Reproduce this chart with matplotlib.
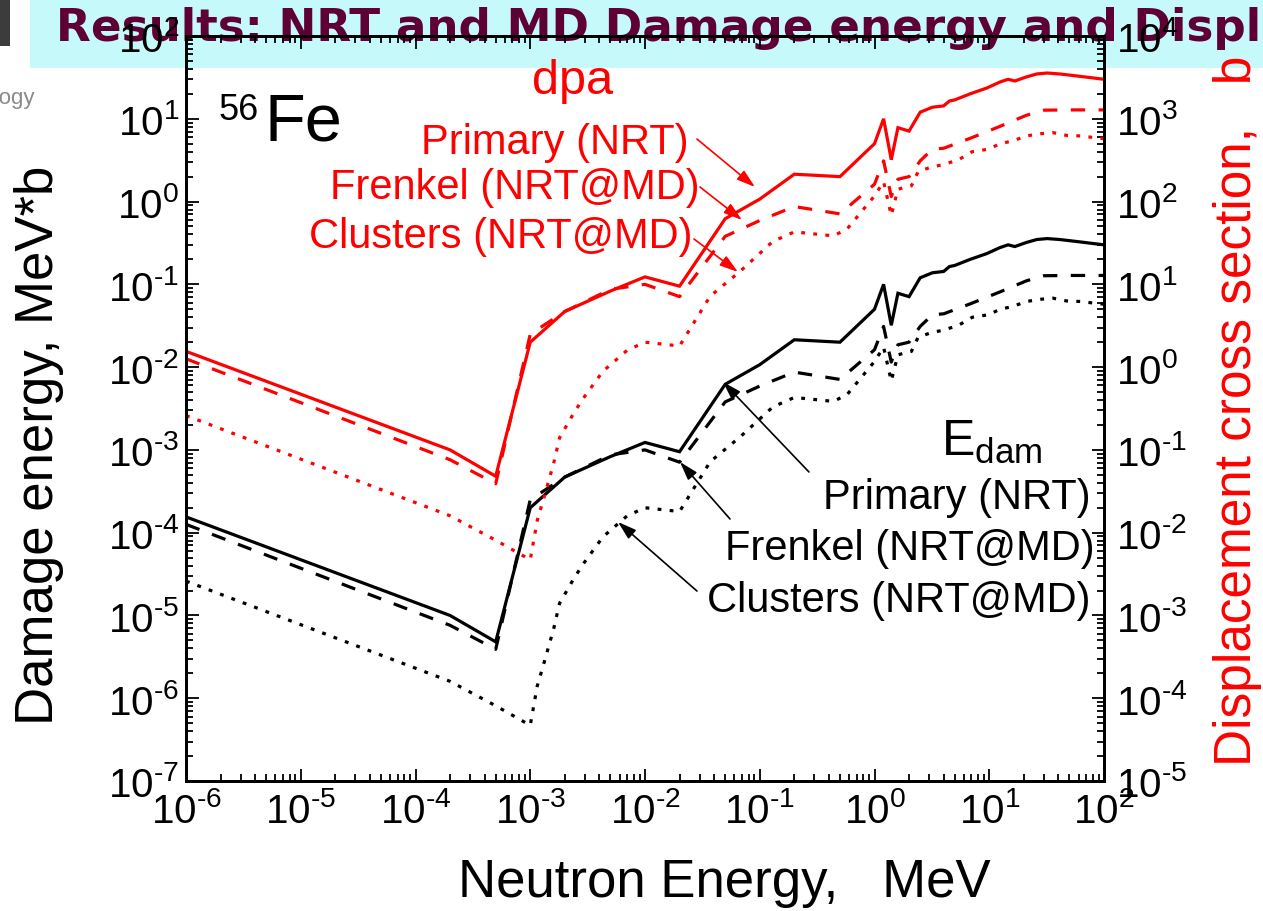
import numpy as np
import matplotlib
matplotlib.use("Agg")
import matplotlib.pyplot as plt
from matplotlib.ticker import LogLocator, NullFormatter, FuncFormatter
from matplotlib.patches import Rectangle

plt.rcParams['font.family'] = ['Liberation Sans', 'DejaVu Sans']
plt.rcParams['mathtext.fontset'] = 'custom'
plt.rcParams['mathtext.rm'] = 'Liberation Sans'
plt.rcParams['mathtext.it'] = 'Liberation Sans:italic'
plt.rcParams['mathtext.bf'] = 'Liberation Sans:bold'
plt.rcParams['mathtext.default'] = 'regular'

# ---------------- data ----------------
# Damage energy (MeV*b), left axis
e_primary = [1e-6, 2e-4, 5e-4, 1e-3, 2e-3, 5e-3, 1e-2, 2e-2, 5e-2, 0.1, 0.2, 0.5,
             1.0, 1.2, 1.4, 1.6, 2.0, 2.5, 3.2, 4.0, 4.5, 5.0, 6.8, 9.5, 12.4,
             14.6, 16.7, 21, 26, 32, 41, 58, 100]
edam_primary = [1.55e-4, 1.0e-5, 4.8e-6, 2.0e-4, 4.7e-4, 8.3e-4, 1.23e-3, 9.5e-4,
                6.2e-3, 1.07e-2, 2.14e-2, 2.0e-2, 5.0e-2, 1.0e-1, 3.2e-2, 7.8e-2,
                7.1e-2, 0.12, 0.138, 0.143, 0.164, 0.169, 0.20, 0.235, 0.278,
                0.30, 0.286, 0.32, 0.348, 0.357, 0.348, 0.329, 0.30]

e_frenkel = [1e-6, 2e-4, 5e-4, 1e-3, 2e-3, 5e-3, 1e-2, 2e-2, 5e-2, 0.1, 0.2, 0.5,
             1.0, 1.2, 1.4, 1.6, 2.0, 2.5, 3.2, 4.0, 6.8, 12.4, 21, 30, 50, 100]
edam_frenkel = [1.26e-4, 7.6e-6, 3.9e-6, 2.5e-4, 4.7e-4, 8.7e-4, 1.0e-3, 7.1e-4,
                3.8e-3, 5.9e-3, 8.7e-3, 7.1e-3, 1.62e-2, 3.1e-2, 1.15e-2, 1.86e-2,
                2.0e-2, 3.1e-2, 4.3e-2, 4.4e-2, 5.8e-2, 8.1e-2, 0.11, 0.127,
                0.128, 0.128]

e_clusters = [1e-6, 2e-4, 5e-4, 1e-3, 1.15e-3, 1.3e-3, 1.6e-3, 1.8e-3, 2.4e-3,
              2.9e-3, 4.3e-3, 7e-3, 1e-2, 2e-2, 3.7e-2, 6.8e-2, 0.13, 0.2, 0.44,
              0.58, 1.0, 1.2, 1.4, 1.6, 2.1, 2.4, 3.1, 4.0, 5.4, 7.1, 9.9, 12.4,
              16, 21, 28, 36, 47, 63, 84, 100]
edam_clusters = [2.6e-5, 1.6e-6, 8.1e-7, 4.7e-7, 1.4e-6, 2.5e-6, 6.9e-6, 1.4e-5,
                 2.8e-5, 4.2e-5, 8.9e-5, 1.6e-4, 2.0e-4, 1.8e-4, 7.2e-4, 1.45e-3,
                 3.3e-3, 4.3e-3, 3.85e-3, 4.7e-3, 1.17e-2, 1.74e-2, 6.8e-3,
                 1.41e-2, 1.55e-2, 2.3e-2, 2.6e-2, 2.8e-2, 3.2e-2, 4.0e-2, 4.3e-2,
                 5.0e-2, 5.4e-2, 6.2e-2, 6.6e-2, 6.8e-2, 6.3e-2, 6.2e-2, 5.9e-2,
                 5.75e-2]

# Displacement cross section (b), right axis
dpa_primary = [1.55, 0.10, 0.048, 2.0, 4.7, 8.3, 12.3, 9.5, 62, 107, 214, 200,
               500, 1000, 320, 780, 710, 1200, 1380, 1430, 1640, 1690, 2000,
               2350, 2780, 3000, 2860, 3200, 3480, 3570, 3480, 3290, 3000]
dpa_frenkel = [1.26, 0.076, 0.039, 2.5, 4.7, 8.7, 10, 7.1, 38, 59, 87, 71, 162,
               310, 115, 186, 200, 310, 430, 440, 580, 810, 1100, 1270, 1280, 1280]
dpa_clusters = [0.26, 0.016, 0.0081, 0.0047, 0.014, 0.025, 0.069, 0.14, 0.28,
                0.42, 0.89, 1.6, 2.0, 1.8, 7.2, 14.5, 33, 43, 38.5, 47, 117, 174,
                68, 141, 155, 230, 260, 280, 320, 400, 430, 500, 540, 620, 660,
                680, 630, 620, 590, 575]

series_labels = ["Primary (NRT)", "Frenkel (NRT@MD)", "Clusters (NRT@MD)"]


def pow10_label(v, pos):
    if v <= 0:
        return ""
    e = int(round(np.log10(v)))
    s = str(e).replace('-', '\u2010')
    return r'$10^{%s}$' % s


# ---------------- figure ----------------
W, H = 1263, 912
fig = plt.figure(figsize=(W / 100, H / 100), dpi=100)
fig.patch.set_facecolor('white')

# slide background pieces (title bar, logo fragment)
fig.patches.append(Rectangle((30 / W, 1 - 69 / H), 1 - 30 / W, 69 / H,
                             transform=fig.transFigure, facecolor='#C6FAFA',
                             edgecolor='none', zorder=-3))
fig.patches.append(Rectangle((0, 1 - 47 / H), 10 / W, 47 / H,
                             transform=fig.transFigure, facecolor='#3C3C3C',
                             edgecolor='none', zorder=-3))
fig.text(35 / W, 1 - 104 / H, "Technology", ha='right', va='baseline',
         fontsize=16, color='#8A8A8A', zorder=-2)
fig.text(56 / W, 1 - 41 / H,
         "Results: NRT and MD Damage energy and Displacement cross sections",
         ha='left', va='baseline', fontsize=32.6, fontweight='bold',
         family='DejaVu Sans', color='#5E0033', zorder=-2)

ax = fig.add_axes([186 / W, 1 - 782 / H, (1104 - 186) / W, (782 - 37) / H])
ax.set_facecolor('none')
ax2 = ax.twinx()
ax2.set_facecolor('none')

lw = 2.3
dash = (4.5, 4.2)
dot = (1.2, 2.6)

ax.plot(e_primary, edam_primary, color='black', lw=lw, solid_joinstyle='miter')
ax.plot(e_frenkel, edam_frenkel, color='black', lw=lw, dashes=dash)
ax.plot(e_clusters, edam_clusters, color='black', lw=lw, dashes=dot)

ax2.plot(e_primary, dpa_primary, color='red', lw=lw, solid_joinstyle='miter')
ax2.plot(e_frenkel, dpa_frenkel, color='red', lw=lw, dashes=dash)
ax2.plot(e_clusters, dpa_clusters, color='red', lw=lw, dashes=dot)

ax.set_xscale('log')
ax.set_yscale('log')
ax2.set_yscale('log')
ax.set_xlim(1e-6, 1e2)
ax.set_ylim(1e-7, 1e2)
ax2.set_ylim(1e-5, 1e4)

for a in (ax, ax2):
    for s in a.spines.values():
        s.set_linewidth(2.0)
    a.xaxis.set_major_locator(LogLocator(base=10, numticks=100))
    a.xaxis.set_minor_locator(LogLocator(base=10, subs=np.arange(2, 10), numticks=100))
    a.xaxis.set_minor_formatter(NullFormatter())
    a.yaxis.set_major_locator(LogLocator(base=10, numticks=100))
    a.yaxis.set_minor_locator(LogLocator(base=10, subs=np.arange(2, 10), numticks=100))
    a.yaxis.set_minor_formatter(NullFormatter())
    a.yaxis.set_major_formatter(FuncFormatter(pow10_label))

ax.xaxis.set_major_formatter(FuncFormatter(pow10_label))
ax.tick_params(which='both', direction='in', top=True, right=False, width=1.3)
ax.tick_params(which='major', length=9, labelsize=29)
ax.tick_params(which='minor', length=5)
ax.tick_params(axis='x', pad=7)
ax.tick_params(axis='y', pad=5)
ax2.tick_params(which='both', direction='in', right=True, left=False, top=False,
                bottom=False, width=1.3)
ax2.tick_params(which='major', length=9, labelsize=29, pad=9)
ax2.tick_params(which='minor', length=5)

ax.set_xlabel("Neutron Energy,   MeV", fontsize=38)
ax.xaxis.set_label_coords((724 - 186) / 918, (782 - 897) / 745)
ax.xaxis.label.set_verticalalignment('baseline')
ax.set_ylabel("Damage energy, MeV*b", fontsize=38)
ax.yaxis.set_label_coords((64 - 186) / 918, (782 - 445) / 745)
ax2.set_ylabel("Displacement cross section,   b", fontsize=37, color='red')
ax2.yaxis.set_label_coords((1213 - 186) / 918, (782 - 411) / 745)

# panel annotations
ax.text(0.035, 0.902, "56", transform=ax.transAxes, fontsize=26, ha='left', va='center')
ax.text(0.086, 0.884, "Fe", transform=ax.transAxes, fontsize=48, ha='left', va='center')
ax.text(0.421, 0.94, "dpa", transform=ax.transAxes, fontsize=35, color='red',
        ha='center', va='center')
ax.text(0.822, 0.456, r"E$_{\mathrm{dam}}$", transform=ax.transAxes, fontsize=36,
        ha='left', va='center')

red_text_pos = [(0.547, 0.858), (0.560, 0.797), (0.552, 0.732)]
red_arrows = [((0.5566, 0.8617), (0.6198, 0.7973)),
              ((0.5599, 0.7973), (0.6057, 0.7530)),
              ((0.5534, 0.7275), (0.6013, 0.6832))]
blk_text_pos = [(0.985, 0.381), (0.990, 0.313), (0.985, 0.243)]
blk_arrows = [((0.6786, 0.4148), (0.585, 0.5356)),
              ((0.5926, 0.3517), (0.5381, 0.4282)),
              ((0.5566, 0.2550), (0.4706, 0.3477))]

for lab, (tx, ty) in zip(series_labels, red_text_pos):
    ax.text(tx, ty, lab, transform=ax.transAxes, fontsize=30, color='red',
            ha='right', va='center')
for lab, (tx, ty) in zip(series_labels, blk_text_pos):
    ax.text(tx, ty, lab, transform=ax.transAxes, fontsize=30, color='black',
            ha='right', va='center')

for (tail, head) in red_arrows:
    ax.annotate('', xy=head, xytext=tail, xycoords='axes fraction',
                textcoords='axes fraction',
                arrowprops=dict(arrowstyle='-|>,head_length=0.8,head_width=0.25',
                                mutation_scale=14, color='red', lw=1.2,
                                shrinkA=0, shrinkB=0))
for (tail, head) in blk_arrows:
    ax.annotate('', xy=head, xytext=tail, xycoords='axes fraction',
                textcoords='axes fraction',
                arrowprops=dict(arrowstyle='-|>,head_length=0.8,head_width=0.25',
                                mutation_scale=14, color='black', lw=1.2,
                                shrinkA=0, shrinkB=0))

fig.savefig("out.png", dpi=100)
